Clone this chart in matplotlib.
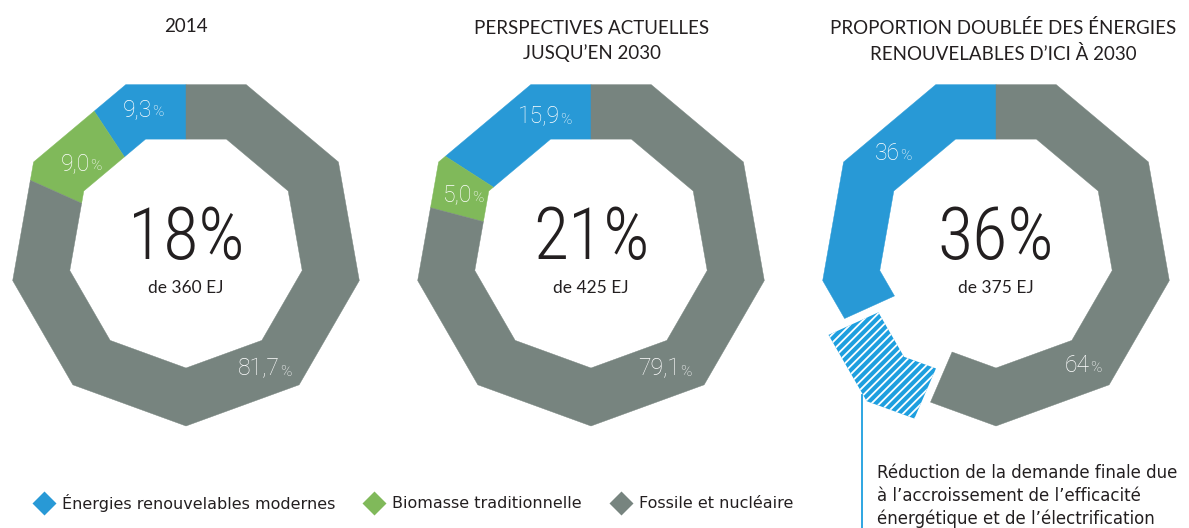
import numpy as np
import matplotlib
matplotlib.use('Agg')
import matplotlib.pyplot as plt
from matplotlib.patches import Polygon
from matplotlib.lines import Line2D
from matplotlib import font_manager

# data
titles = ['2014', 'PERSPECTIVES ACTUELLES\nJUSQU\u2019EN 2030',
          'PROPORTION DOUBL\u00c9E DES \u00c9NERGIES\nRENOUVELABLES D\u2019ICI \u00c0 2030']
centre_pct = ['18%', '21%', '36%']
totals_ej = [360, 425, 375]
shares_2014 = [9.3, 9.0, 81.7]          # modern RE, biomass, fossil
shares_ref = [15.9, 5.0, 79.1]
shares_double = [36, 64]                # RE, fossil (of 375 EJ)
share_labels = [['9,3', '9,0', '81,7'], ['15,9', '5,0', '79,1'], ['36', '64']]
legend_names = ['\u00c9nergies renouvelables modernes', 'Biomasse traditionnelle', 'Fossile et nucl\u00e9aire']
note = ('R\u00e9duction de la demande finale due\n\u00e0 l\u2019accroissement de l\u2019efficacit\u00e9\n'
        '\u00e9nerg\u00e9tique et de l\u2019\u00e9lectrification')

# style
BLUE, GREEN, GREY, HBLUE = '#2899D6', '#80B95A', '#77847F', '#1E9FDF'
TXT = '#231F20'
W, H = 1189, 528
R, r = 176, 118
cy = 250
cxs = [186, 591, 996]
title_x = [186, 592, 1003]
plt.rcParams['hatch.linewidth'] = 1.3

names = {f.name for f in font_manager.fontManager.ttflist}
NUMF = next((n for n in ['Roboto Condensed', 'Liberation Sans Narrow', 'Roboto'] if n in names), 'DejaVu Sans')
LABF = 'Roboto' if 'Roboto' in names else 'DejaVu Sans'
TITF = 'Lato'

def rad(th):
    phi = -70 + 40*np.round((th + 70)/40.)
    return np.cos(np.radians(20))/np.cos(np.radians(th - phi))

def seg(cx, a0, a1, dx=0., dy=0.):
    # a0,a1 : degrees counter-clockwise from 12 o'clock
    t0, t1 = 90 + a0, 90 + a1
    verts = [-90 + 40*k for k in range(-1, 20)]
    ths = np.array([t0] + [v for v in verts if t0 < v < t1] + [t1])
    xo = cx + R*rad(ths)*np.cos(np.radians(ths)) + dx
    yo = cy - R*rad(ths)*np.sin(np.radians(ths)) + dy
    xi = cx + r*rad(ths)*np.cos(np.radians(ths)) + dx
    yi = cy - r*rad(ths)*np.sin(np.radians(ths)) + dy
    return np.column_stack([np.r_[xo, xi[::-1]], np.r_[yo, yi[::-1]]])

fig = plt.figure(figsize=(W/100, H/100), dpi=100)
ax = fig.add_axes([0, 0, 1, 1])
ax.set_xlim(0, W)
ax.set_ylim(H, 0)
ax.axis('off')

def donut(cx, shares, colors):
    a = 0.
    for s, c in zip(shares, colors):
        ax.add_patch(Polygon(seg(cx, a, a + 3.6*s), closed=True, fc=c, ec=c, lw=0.3))
        a += 3.6*s

donut(cxs[0], shares_2014, [BLUE, GREEN, GREY])
donut(cxs[1], shares_ref, [BLUE, GREEN, GREY])

# third donut : angles relative to 425 EJ reference, reduction shown exploded
f = totals_ej[2]/totals_ej[1]
a_re = 3.6*shares_double[0]*f
a_red = 360*(1 - f)
ax.add_patch(Polygon(seg(cxs[2], 0, a_re), closed=True, fc=BLUE, ec=BLUE, lw=0.3))
ax.add_patch(Polygon(seg(cxs[2], a_re + a_red, 360), closed=True, fc=GREY, ec=GREY, lw=0.3))
mid = np.radians(90 + a_re + a_red/2)
off = 23
ax.add_patch(Polygon(seg(cxs[2], a_re, a_re + a_red, off*np.cos(mid), -off*np.sin(mid)),
                     closed=True, fc=HBLUE, ec='white', lw=0, hatch='////'))
ax.add_line(Line2D([862, 862], [395, 528], color=HBLUE, lw=1.3))

# titles and centre text
for cx, tx, t, p, e in zip(cxs, title_x, titles, centre_pct, totals_ej):
    two = '\n' in t
    ax.text(tx, 41 if two else 27, t, ha='center', va='center',
            fontsize=13.5, family=TITF, color=TXT, linespacing=1.5)
    ax.text(cx, 239, p, ha='center', va='center', fontsize=52, family=NUMF,
            fontweight='light', color=TXT)
    ax.text(cx, 288, f'de {e} EJ', ha='center', va='center', fontsize=12.5,
            family=TITF, color=TXT)

# segment labels (junction between number and % sign)
lab_pos = [[(152, 110), (90, 164), (280, 369)],
           [(560, 117), (472, 195), (680, 369)],
           [(900, 154), (1090, 365)]]
for labs, poss in zip(share_labels, lab_pos):
    for s, (x, y) in zip(labs, poss):
        ax.text(x, y, s, ha='right', va='center', fontsize=16.5, family=LABF,
                fontweight='light', color='white')
        ax.text(x + 0.5, y + 2.5, '%', ha='left', va='center', fontsize=11, family=LABF,
                fontweight='light', color='white')

# legend
leg_x = [44, 374, 621]
for x, name, c in zip(leg_x, legend_names, [BLUE, GREEN, GREY]):
    ax.plot([x], [503], marker='D', ms=12, color=c, mec='none')
    ax.text(x + 18, 503, name, ha='left', va='center', fontsize=11.5,
            family='DejaVu Sans', color=TXT)

ax.text(877, 496, note, ha='left', va='center', fontsize=12, family='DejaVu Sans',
        color=TXT, linespacing=1.32)

fig.savefig('out.png', dpi=100)
